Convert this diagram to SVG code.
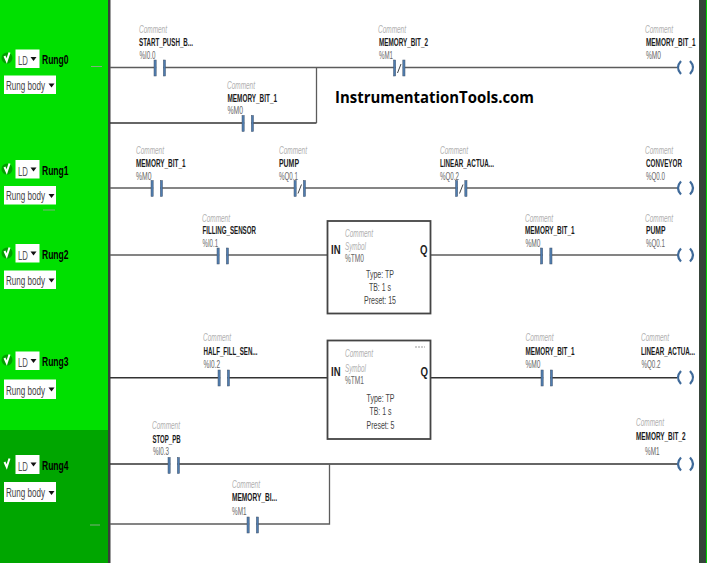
<svg xmlns="http://www.w3.org/2000/svg" xmlns:xlink="http://www.w3.org/1999/xlink" width="720" height="563" viewBox="0 0 720 563">
<style>
text{font-family:"Liberation Sans",Arial,sans-serif}
.c{font-size:10px;font-style:italic;fill:#b0b0b0}
.n{font-size:10px;font-weight:bold;fill:#1a1a1a}
.a{font-size:10px;fill:#666}
.w{fill:none;stroke:#5c5c5c;stroke-width:1.3}
.d{fill:none;stroke:#333;stroke-width:1.6}
.bar{fill:#4f7db0;stroke:#44546a;stroke-width:.5}
.gap{fill:#fff}
.sl{stroke:#444;stroke-width:1;fill:none}
.coil{fill:none;stroke:#3f6a9a;stroke-width:2.2}
.box{fill:#fff;stroke:#444;stroke-width:1.8}
.io{font-size:12px;font-weight:bold;fill:#222}
.p{font-size:11px;fill:#444;text-anchor:middle}
.ui{fill:#fff}
.ld{font-size:13px;fill:#555}
.rb{font-size:12.5px;fill:#444}
.r{font-size:12px;font-weight:bold;fill:#000}
.tri{fill:#111}
.ok{fill:#00a000}
.tick{fill:none;stroke:#fff;stroke-width:2}
.mark{stroke:#7fae7f;stroke-width:1}
</style>
<defs>
<g id="no"><rect class="gap" x="-3.3" y="-3" width="7.100" height="6"/><rect class="bar" x="-5.5" y="-8" width="2.2" height="16"/><rect class="bar" x="3.8" y="-8" width="2.2" height="16"/></g>
<g id="nc"><use xlink:href="#no"/><path class="sl" d="M-1.500 5 L2 -4"/></g>
<g id="cl"><path class="coil" d="M-1 -6.500 Q-7 0 -1 6.500"/><path class="coil" d="M8 -6.500 Q14 0 8 6.500"/></g>
</defs>
<rect width="720" height="563" fill="#fff"/>
<g id="sidebar">
<rect x="0" y="0" width="108" height="563" fill="#00e000"/>
<rect x="0" y="430" width="108" height="133" fill="#00a600"/>
<rect x="108" y="0" width="2.5" height="563" fill="#3c3c3c"/>
<rect x="699" y="0" width="7" height="563" fill="#36443a"/>
<rect x="706" y="0" width="1" height="563" fill="#00d000"/>
</g>
<g id="connectors">
<path class="w" d="M110 67.500H677"/>
<path class="d" d="M110 123H316.500"/>
<path class="w" d="M316.500 123V67.500"/>
<path class="w" d="M110 188H677"/>
<path class="w" d="M110 255H327M430 255H677"/>
<path class="d" d="M110 377.700H327M430 377.700H677"/>
<path class="d" d="M110 464H677"/>
<path class="w" d="M110 524H329.500V464"/>
<line class="mark" x1="91" y1="66.500" x2="102" y2="66.500"/>
<line class="mark" x1="43" y1="210" x2="55" y2="210"/>
<line class="mark" x1="90" y1="525" x2="100" y2="525"/>
</g>
<g id="rung0-label"><circle class="ok" cx="7" cy="58" r="5.5"/><path class="tick" d="M4.5 56 L6.7 61 L9.5 52.5"/><rect class="ui" x="15.5" y="49.5" width="24" height="18.5"/><text class="ld" x="18" y="64.500" textLength="10" lengthAdjust="spacingAndGlyphs">LD</text><path class="tri" d="M30.5 57H36.5L33.5 61z"/><text class="r" x="42" y="63.500" textLength="26.500" lengthAdjust="spacingAndGlyphs">Rung0</text><rect class="ui" x="4" y="75.500" width="52" height="18.500"/><text class="rb" x="6" y="89.500" textLength="39" lengthAdjust="spacingAndGlyphs">Rung body</text><path class="tri" d="M48.500 83.500H54.500L51.500 87.500z"/></g>
<g id="rung1-label"><circle class="ok" cx="7" cy="169" r="5.5"/><path class="tick" d="M4.5 167 L6.7 172 L9.5 163.500"/><rect class="ui" x="15.5" y="160" width="24" height="18.5"/><text class="ld" x="18" y="175.500" textLength="10" lengthAdjust="spacingAndGlyphs">LD</text><path class="tri" d="M30.5 167.5H36.5L33.5 171.5z"/><text class="r" x="42" y="174.500" textLength="26.500" lengthAdjust="spacingAndGlyphs">Rung1</text><rect class="ui" x="4" y="186" width="52" height="18.500"/><text class="rb" x="6" y="200" textLength="39" lengthAdjust="spacingAndGlyphs">Rung body</text><path class="tri" d="M48.500 194H54.500L51.500 198z"/></g>
<g id="rung2-label"><circle class="ok" cx="7" cy="253" r="5.5"/><path class="tick" d="M4.5 251 L6.7 256 L9.5 247.500"/><rect class="ui" x="15.5" y="244" width="24" height="18.5"/><text class="ld" x="18" y="259.500" textLength="10" lengthAdjust="spacingAndGlyphs">LD</text><path class="tri" d="M30.5 251.5H36.5L33.5 255.5z"/><text class="r" x="42" y="258.500" textLength="26.500" lengthAdjust="spacingAndGlyphs">Rung2</text><rect class="ui" x="4" y="270.500" width="52" height="18.500"/><text class="rb" x="6" y="284.500" textLength="39" lengthAdjust="spacingAndGlyphs">Rung body</text><path class="tri" d="M48.500 278.500H54.500L51.500 282.500z"/></g>
<g id="rung3-label"><circle class="ok" cx="7" cy="360" r="5.5"/><path class="tick" d="M4.5 358 L6.7 363 L9.500 354.500"/><rect class="ui" x="15.5" y="351.500" width="24" height="18.5"/><text class="ld" x="18" y="367" textLength="10" lengthAdjust="spacingAndGlyphs">LD</text><path class="tri" d="M30.5 359H36.5L33.5 363z"/><text class="r" x="42" y="365.500" textLength="26.500" lengthAdjust="spacingAndGlyphs">Rung3</text><rect class="ui" x="4" y="379.500" width="52" height="19.500"/><text class="rb" x="6" y="394.500" textLength="39" lengthAdjust="spacingAndGlyphs">Rung body</text><path class="tri" d="M48.500 387.500H54.500L51.500 391.500z"/></g>
<g id="rung4-label"><circle class="ok" cx="7" cy="464" r="5.5"/><path class="tick" d="M4.5 462 L6.700 467 L9.500 458.500"/><rect class="ui" x="15.5" y="455" width="24" height="19"/><text class="ld" x="18" y="470.500" textLength="10" lengthAdjust="spacingAndGlyphs">LD</text><path class="tri" d="M30.5 462.500H36.500L33.500 466.500z"/><text class="r" x="42" y="469.500" textLength="26.500" lengthAdjust="spacingAndGlyphs">Rung4</text><rect class="ui" x="4" y="482" width="52" height="20"/><text class="rb" x="6" y="497" textLength="39" lengthAdjust="spacingAndGlyphs">Rung body</text><path class="tri" d="M48.500 491H54.500L51.500 495z"/></g>

<g id="r0-start"><text class="c" x="139" y="32.500" textLength="28" lengthAdjust="spacingAndGlyphs">Comment</text><text class="n" x="139" y="46" textLength="54" lengthAdjust="spacingAndGlyphs">START_PUSH_B...</text><text class="a" x="139.500" y="58.500" textLength="16" lengthAdjust="spacingAndGlyphs">%I0.0</text><use xlink:href="#no" x="159.500" y="68"/></g>
<g id="r0-mem1"><text class="c" x="227" y="89" textLength="28" lengthAdjust="spacingAndGlyphs">Comment</text><text class="n" x="227.500" y="102" textLength="49.500" lengthAdjust="spacingAndGlyphs">MEMORY_BIT_1</text><text class="a" x="227.500" y="114" textLength="15.500" lengthAdjust="spacingAndGlyphs">%M0</text><use xlink:href="#no" x="247.500" y="123.500"/></g>
<g id="r0-mem2"><text class="c" x="378" y="32.500" textLength="28" lengthAdjust="spacingAndGlyphs">Comment</text><text class="n" x="379" y="46" textLength="49" lengthAdjust="spacingAndGlyphs">MEMORY_BIT_2</text><text class="a" x="379" y="58.500" textLength="14" lengthAdjust="spacingAndGlyphs">%M1</text><use xlink:href="#nc" x="399" y="68"/></g>
<g id="r0-coil"><text class="c" x="645" y="32.500" textLength="28" lengthAdjust="spacingAndGlyphs">Comment</text><text class="n" x="646" y="46" textLength="49.500" lengthAdjust="spacingAndGlyphs">MEMORY_BIT_1</text><text class="a" x="646" y="58.500" textLength="15" lengthAdjust="spacingAndGlyphs">%M0</text><use xlink:href="#cl" x="682" y="67.500"/></g>

<g id="r1-mem1"><text class="c" x="136" y="153.500" textLength="28" lengthAdjust="spacingAndGlyphs">Comment</text><text class="n" x="136" y="166.500" textLength="49.500" lengthAdjust="spacingAndGlyphs">MEMORY_BIT_1</text><text class="a" x="136" y="179.500" textLength="15.500" lengthAdjust="spacingAndGlyphs">%M0</text><use xlink:href="#no" x="156.500" y="188.500"/></g>
<g id="r1-pump"><text class="c" x="279" y="153.500" textLength="28" lengthAdjust="spacingAndGlyphs">Comment</text><text class="n" x="279" y="166.500" textLength="20" lengthAdjust="spacingAndGlyphs">PUMP</text><text class="a" x="279" y="179.500" textLength="19" lengthAdjust="spacingAndGlyphs">%Q0.1</text><use xlink:href="#nc" x="299.500" y="188.500"/></g>
<g id="r1-linear"><text class="c" x="440" y="153.500" textLength="28" lengthAdjust="spacingAndGlyphs">Comment</text><text class="n" x="440" y="166.500" textLength="54" lengthAdjust="spacingAndGlyphs">LINEAR_ACTUA...</text><text class="a" x="440" y="179.500" textLength="19" lengthAdjust="spacingAndGlyphs">%Q0.2</text><use xlink:href="#nc" x="461" y="188.500"/></g>
<g id="r1-coil"><text class="c" x="645" y="153.500" textLength="28" lengthAdjust="spacingAndGlyphs">Comment</text><text class="n" x="646" y="166.500" textLength="36" lengthAdjust="spacingAndGlyphs">CONVEYOR</text><text class="a" x="646" y="179.500" textLength="19" lengthAdjust="spacingAndGlyphs">%Q0.0</text><use xlink:href="#cl" x="682" y="188"/></g>

<g id="r2-fill"><text class="c" x="202" y="221.500" textLength="28" lengthAdjust="spacingAndGlyphs">Comment</text><text class="n" x="202.500" y="234" textLength="53.500" lengthAdjust="spacingAndGlyphs">FILLING_SENSOR</text><text class="a" x="202.500" y="246.500" textLength="15.500" lengthAdjust="spacingAndGlyphs">%I0.1</text><use xlink:href="#no" x="222.500" y="256"/></g>
<g id="tm0"><rect class="box" x="327.500" y="221" width="103" height="92.500"/><text class="c" x="345" y="236.500" textLength="28" lengthAdjust="spacingAndGlyphs">Comment</text><text class="c" x="345" y="249.500" textLength="21" lengthAdjust="spacingAndGlyphs">Symbol</text><text class="a" x="345" y="261.500" textLength="19" lengthAdjust="spacingAndGlyphs">%TM0</text><text class="io" x="331" y="254" textLength="9.500" lengthAdjust="spacingAndGlyphs">IN</text><text class="io" x="420" y="254" textLength="7.500" lengthAdjust="spacingAndGlyphs">Q</text><text class="p" x="380" y="278" textLength="28" lengthAdjust="spacingAndGlyphs">Type: TP</text><text class="p" x="380" y="290.500" textLength="22" lengthAdjust="spacingAndGlyphs">TB: 1 s</text><text class="p" x="380" y="303.500" textLength="32" lengthAdjust="spacingAndGlyphs">Preset: 15</text></g>
<g id="r2-mem1"><text class="c" x="525" y="221.500" textLength="28" lengthAdjust="spacingAndGlyphs">Comment</text><text class="n" x="525" y="234" textLength="49.500" lengthAdjust="spacingAndGlyphs">MEMORY_BIT_1</text><text class="a" x="525.500" y="246.500" textLength="15" lengthAdjust="spacingAndGlyphs">%M0</text><use xlink:href="#no" x="546" y="256"/></g>
<g id="r2-coil"><text class="c" x="645" y="221.500" textLength="28" lengthAdjust="spacingAndGlyphs">Comment</text><text class="n" x="646" y="234" textLength="19.500" lengthAdjust="spacingAndGlyphs">PUMP</text><text class="a" x="646" y="246.500" textLength="19" lengthAdjust="spacingAndGlyphs">%Q0.1</text><use xlink:href="#cl" x="682" y="255"/></g>

<g id="r3-half"><text class="c" x="203" y="340.500" textLength="28" lengthAdjust="spacingAndGlyphs">Comment</text><text class="n" x="203.500" y="355" textLength="54" lengthAdjust="spacingAndGlyphs">HALF_FILL_SEN...</text><text class="a" x="203.500" y="367.500" textLength="16.500" lengthAdjust="spacingAndGlyphs">%I0.2</text><use xlink:href="#no" x="223.500" y="378"/></g>
<g id="tm1"><rect class="box" x="327.500" y="340.500" width="103" height="98.500"/><line x1="415" y1="347" x2="425" y2="347" stroke="#999" stroke-width="1" stroke-dasharray="2 1"/><text class="c" x="345" y="356.500" textLength="28" lengthAdjust="spacingAndGlyphs">Comment</text><text class="c" x="345" y="371.500" textLength="21" lengthAdjust="spacingAndGlyphs">Symbol</text><text class="a" x="345" y="384" textLength="19" lengthAdjust="spacingAndGlyphs">%TM1</text><text class="io" x="331" y="375.500" textLength="9.500" lengthAdjust="spacingAndGlyphs">IN</text><text class="io" x="420.500" y="375.500" textLength="7.500" lengthAdjust="spacingAndGlyphs">Q</text><text class="p" x="380.500" y="401.500" textLength="28" lengthAdjust="spacingAndGlyphs">Type: TP</text><text class="p" x="380.500" y="414.500" textLength="22" lengthAdjust="spacingAndGlyphs">TB: 1 s</text><text class="p" x="380.500" y="428.500" textLength="28" lengthAdjust="spacingAndGlyphs">Preset: 5</text></g>
<g id="r3-mem1"><text class="c" x="525.500" y="340.500" textLength="28" lengthAdjust="spacingAndGlyphs">Comment</text><text class="n" x="525.500" y="355" textLength="49" lengthAdjust="spacingAndGlyphs">MEMORY_BIT_1</text><text class="a" x="525.500" y="367.500" textLength="15" lengthAdjust="spacingAndGlyphs">%M0</text><use xlink:href="#no" x="546.500" y="378"/></g>
<g id="r3-coil"><text class="c" x="641" y="340.500" textLength="28" lengthAdjust="spacingAndGlyphs">Comment</text><text class="n" x="641" y="355" textLength="54" lengthAdjust="spacingAndGlyphs">LINEAR_ACTUA...</text><text class="a" x="641.500" y="367.500" textLength="19" lengthAdjust="spacingAndGlyphs">%Q0.2</text><use xlink:href="#cl" x="682" y="377.500"/></g>

<g id="r4-stop"><text class="c" x="152" y="428.500" textLength="28" lengthAdjust="spacingAndGlyphs">Comment</text><text class="n" x="152.500" y="442.500" textLength="28" lengthAdjust="spacingAndGlyphs">STOP_PB</text><text class="a" x="153" y="455" textLength="16" lengthAdjust="spacingAndGlyphs">%I0.3</text><use xlink:href="#no" x="173.500" y="465.500"/></g>
<g id="r4-mem"><text class="c" x="232" y="487.500" textLength="28" lengthAdjust="spacingAndGlyphs">Comment</text><text class="n" x="232" y="501" textLength="45" lengthAdjust="spacingAndGlyphs">MEMORY_BI...</text><text class="a" x="232" y="514.500" textLength="14.500" lengthAdjust="spacingAndGlyphs">%M1</text><use xlink:href="#no" x="252.500" y="525"/></g>
<g id="r4-coil"><text class="c" x="636" y="425.500" textLength="28" lengthAdjust="spacingAndGlyphs">Comment</text><text class="n" x="636" y="439.500" textLength="49.500" lengthAdjust="spacingAndGlyphs">MEMORY_BIT_2</text><text class="a" x="645" y="455" textLength="14.500" lengthAdjust="spacingAndGlyphs">%M1</text><use xlink:href="#cl" x="682" y="464"/></g>

<text id="watermark" x="335" y="102.500" style="font-family:'Open Sans','Liberation Sans',sans-serif;font-size:16px;font-weight:bold" fill="#000" textLength="199" lengthAdjust="spacingAndGlyphs">InstrumentationTools.com</text>
</svg>
